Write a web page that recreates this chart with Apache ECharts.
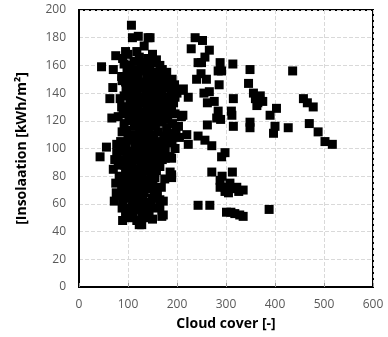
<!DOCTYPE html>
<html>

	<head>
		<meta charset="utf-8" />
		<title></title>
		<script type="text/javascript" src="https://cdn.jsdelivr.net/npm/echarts@6/dist/echarts.min.js"></script>
	</head>

	<body style="margin:0;">
		<div id="main" style="width: 388px;height:337px;"></div>
	</body>
	<script>
		// [cloud cover, insolation] pairs
		let clusterEdge = [
			[107, 189], [109, 180], [121, 181], [141, 180], [133, 174], [75, 167], [89, 165], [123, 166],
			[46, 159], [70, 157], [87, 152], [88, 149], [69, 144], [63, 136], [84, 136], [87, 130],
			[67, 122], [80, 123], [56, 101], [77, 103], [43, 94], [77, 97], [89, 48], [123, 45],
			[128, 45], [169, 51], [165, 63], [158, 84], [189, 81], [179, 94], [176, 93], [189, 93],
			[155, 84], [186, 83], [189, 79], [158, 65], [172, 62], [155, 57], [172, 52],
			[145, 180], [148, 162], [179, 155], [210, 142], [213, 143], [223, 137], [196, 137], [189, 130],
			[212, 124], [196, 125], [209, 123], [203, 116], [220, 110], [223, 103], [176, 98], [186, 94],
			[72, 62], [75, 75], [70, 85], [73, 92], [76, 68], [80, 88]
		];
		let clusterUpper = [
			[95, 170], [100, 168], [112, 163], [118, 170], [128, 162], [135, 160], [140, 165], [150, 168],
			[158, 164], [104, 160], [92, 161], [130, 158], [115, 157], [145, 158], [165, 160], [170, 157],
			[98, 155], [105, 152], [110, 150], [120, 154], [126, 148], [138, 153], [143, 150], [152, 155],
			[160, 151], [168, 148], [175, 152], [182, 148], [95, 148], [114, 146], [132, 146], [150, 147],
			[190, 150], [102, 157], [125, 156], [163, 155],
			[96, 143], [101, 140], [108, 145], [112, 138], [119, 142], [124, 137], [130, 144], [136, 140],
			[141, 136], [147, 143], [153, 139], [158, 145], [163, 136], [170, 141], [176, 137], [183, 144],
			[188, 139], [195, 146], [200, 140], [105, 135], [118, 147], [134, 135], [145, 147], [160, 140],
			[172, 145], [92, 138], [180, 135], [150, 135],
			[94, 130], [99, 126], [104, 133], [110, 128], [115, 123], [121, 131], [127, 126], [132, 122],
			[138, 130], [143, 125], [148, 133], [154, 127], [159, 122], [164, 131], [170, 126], [175, 132],
			[181, 124], [186, 128], [193, 133], [102, 122], [118, 134], [135, 133], [152, 124], [166, 123],
			[178, 129], [90, 125], [140, 128], [125, 134]
		];
		let clusterLower = [
			[92, 118], [97, 113], [103, 120], [108, 110], [113, 116], [118, 121], [124, 112], [129, 118],
			[134, 108], [139, 114], [145, 120], [150, 110], [156, 116], [162, 112], [168, 119], [173, 109],
			[179, 115], [185, 111], [191, 118], [198, 112], [205, 108], [100, 108], [121, 108], [142, 110],
			[160, 121], [177, 121], [88, 112], [131, 121], [153, 106],
			[85, 105], [90, 100], [96, 104], [102, 98], [108, 106], [114, 101], [120, 97], [126, 104],
			[131, 99], [137, 105], [142, 100], [148, 96], [154, 103], [160, 99], [166, 105], [171, 101],
			[180, 104], [190, 106], [196, 100], [118, 107], [140, 107], [84, 98], [110, 96], [162, 96],
			[88, 92], [93, 88], [98, 94], [104, 86], [109, 91], [115, 85], [121, 92], [126, 88],
			[132, 94], [137, 86], [143, 90], [149, 95], [154, 89], [165, 87], [170, 92], [100, 84],
			[118, 95], [140, 84], [95, 84], [130, 85], [160, 94],
			[82, 80], [87, 74], [92, 79], [97, 72], [103, 77], [108, 82], [113, 71], [118, 78],
			[124, 74], [129, 81], [135, 71], [140, 77], [146, 80], [151, 74], [168, 72], [175, 78],
			[90, 70], [110, 75], [132, 76], [145, 71], [122, 83], [100, 81], [155, 79],
			[84, 66], [89, 60], [94, 64], [100, 57], [105, 67], [111, 62], [116, 56], [122, 65],
			[127, 59], [133, 68], [138, 61], [143, 55], [149, 64], [160, 69], [165, 58], [88, 57],
			[108, 58], [130, 62], [146, 60], [98, 69], [119, 68], [137, 56], [153, 66],
			[95, 53], [110, 52], [118, 48], [135, 50], [140, 53], [150, 49], [103, 50], [128, 54]
		];
		let upperRight = [
			[237, 180], [252, 178], [229, 172], [266, 171], [257, 166], [243, 162], [250, 162], [288, 162],
			[284, 156], [249, 154], [260, 150], [286, 146], [266, 141], [262, 133], [284, 127], [281, 122],
			[262, 117], [243, 109], [257, 106], [271, 102], [291, 94], [240, 150], [255, 140], [276, 134],
			[291, 156], [289, 121]
		];
		let farRight = [
			[314, 161], [349, 157], [436, 156], [346, 147], [315, 136], [356, 140], [360, 136], [365, 133],
			[370, 138], [363, 131], [375, 134], [311, 127], [312, 124], [315, 116], [349, 119], [349, 115],
			[390, 124], [403, 129], [400, 116], [397, 111], [427, 115], [458, 136], [466, 133], [478, 130],
			[470, 118], [488, 112], [502, 105], [517, 103]
		];
		let lowerRight = [
			[298, 97], [313, 83], [298, 72], [315, 71], [335, 70], [305, 68], [301, 54], [318, 53],
			[335, 51], [388, 56], [243, 59], [267, 59], [271, 83], [288, 77], [288, 72], [298, 69],
			[308, 75], [322, 72], [326, 69], [310, 54], [328, 52], [292, 80]
		];

		let allPoints = clusterEdge.concat(clusterUpper, clusterLower, upperRight, farRight, lowerRight);

		let myChart = echarts.init(document.getElementById('main'));
		let labelFont = {
			color: '#595959',
			fontSize: 12,
			fontFamily: 'Open Sans'
		};
		let option = {
			animation: false,
			grid: {
				left: 79,
				right: 15,
				top: 10,
				bottom: 50,
				outerBoundsMode: 'none',
				show: true,
				borderColor: '#000',
				borderWidth: 2
			},
			xAxis: {
				type: 'value',
				min: 0,
				max: 600,
				interval: 100,
				name: 'Cloud cover [-]',
				nameLocation: 'middle',
				nameGap: 30,
				nameTextStyle: {
					color: '#000',
					fontSize: 14,
					fontWeight: 'bold',
					fontFamily: 'Open Sans'
				},
				axisLine: {
					lineStyle: {
						color: '#000',
						width: 2
					}
				},
				axisTick: {
					inside: true,
					length: 4,
					lineStyle: {
						color: '#999'
					}
				},
				axisLabel: Object.assign({ margin: 12 }, labelFont),
				splitLine: {
					lineStyle: {
						color: '#d9d9d9',
						type: 'dashed'
					}
				}
			},
			yAxis: {
				type: 'value',
				min: 0,
				max: 200,
				interval: 20,
				name: '[Insolaation [kWh/m²]',
				nameLocation: 'middle',
				nameGap: 50,
				nameTextStyle: {
					color: '#000',
					fontSize: 14,
					fontWeight: 'bold',
					fontFamily: 'Open Sans'
				},
				axisLine: {
					show: true,
					lineStyle: {
						color: '#000',
						width: 2
					}
				},
				axisTick: {
					show: false
				},
				axisLabel: Object.assign({ margin: 13 }, labelFont),
				splitLine: {
					lineStyle: {
						color: '#d9d9d9',
						type: 'dashed'
					}
				}
			},
			series: [{
				type: 'scatter',
				symbol: 'rect',
				symbolSize: 9,
				itemStyle: {
					color: '#000',
					opacity: 1
				},
				data: allPoints
			}]
		};
		myChart.setOption(option);
	</script>

</html>
